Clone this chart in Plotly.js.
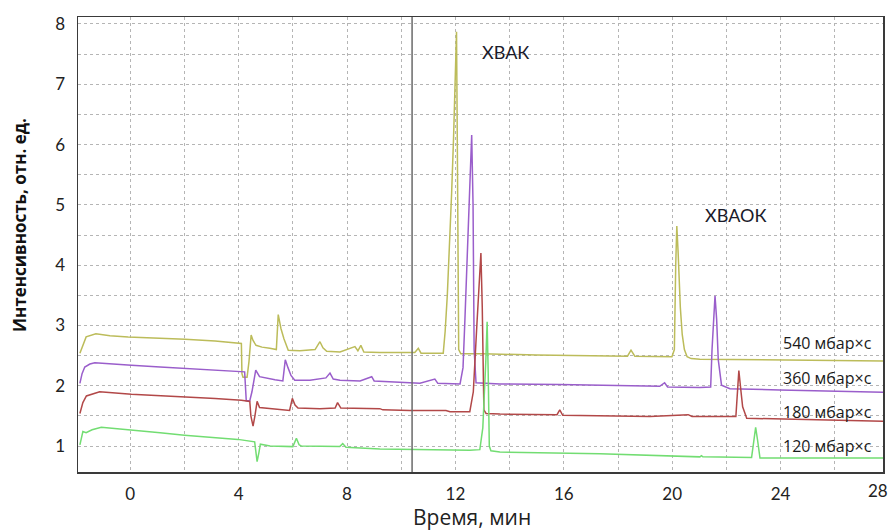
<!DOCTYPE html>
<html>
<head>
<meta charset="utf-8">
<script src="https://cdn.plot.ly/plotly-3.0.1.min.js"></script>
<style>html,body{margin:0;padding:0;background:#fff;}#chart{width:891px;height:531px;}</style>
</head>
<body>
<div id="chart"></div>
<script>
// Series names
const seriesNames = ["540 мбар×с", "360 мбар×с", "180 мбар×с", "120 мбар×с"];
const peakLabels = ["ХВАК", "ХВАОК"];
const cursorTime = 10.4;

// 540 mbar·s
const t540 = [-1.86,-1.63,-1.27,-0.75,-0.08,1.1,2.02,3.13,4.05,4.10,4.12,4.16,4.31,4.38,4.46,4.53,4.64,4.86,5.15,5.39,5.46,5.56,5.67,5.83,6.26,6.82,7.0,7.11,7.25,7.74,8.29,8.40,8.51,8.62,9.21,9.95,10.5,10.63,10.73,11.55,11.62,11.7,11.78,11.86,11.93,11.99,12.04,12.07,12.09,12.12,12.2,13.0,15.0,17.33,18.35,18.48,18.62,19.99,20.08,20.13,20.17,20.22,20.3,20.37,20.45,20.55,20.7,21.02,24.0,27.78];
const y540 = [2.54,2.81,2.86,2.83,2.81,2.79,2.77,2.74,2.71,2.70,2.20,2.14,2.14,2.40,2.84,2.75,2.67,2.64,2.62,2.60,3.18,2.95,2.78,2.59,2.58,2.60,2.73,2.63,2.57,2.56,2.65,2.58,2.67,2.56,2.55,2.55,2.55,2.62,2.54,2.54,2.90,3.50,4.30,5.20,6.10,7.00,7.87,6.00,4.00,2.60,2.53,2.53,2.51,2.49,2.49,2.59,2.49,2.48,2.60,4.00,4.65,4.20,3.30,2.85,2.60,2.48,2.45,2.44,2.43,2.41];

// 360 mbar·s
const t360 = [-1.86,-1.78,-1.68,-1.49,-1.31,-0.75,0.04,1.1,2.0,3.13,4.1,4.22,4.28,4.41,4.49,4.63,4.77,4.97,5.34,5.63,5.72,5.82,5.93,6.07,6.63,7.22,7.37,7.49,7.74,8.48,8.91,9.0,9.58,10.07,10.69,11.24,11.35,12.17,12.28,12.35,12.46,12.54,12.6,12.65,12.69,12.76,13.64,15.85,18.07,19.54,19.72,19.83,21.02,21.42,21.47,21.58,21.64,21.7,21.82,22.13,23.97,27.78];
const y360 = [2.04,2.20,2.31,2.36,2.38,2.36,2.34,2.31,2.29,2.26,2.24,2.23,1.75,1.75,1.90,2.26,2.15,2.13,2.10,2.08,2.43,2.30,2.17,2.09,2.09,2.13,2.21,2.11,2.09,2.08,2.15,2.08,2.07,2.05,2.04,2.11,2.04,2.03,2.30,3.10,4.60,5.50,6.16,5.00,2.60,2.05,2.03,2.02,2.00,1.99,2.05,1.98,1.97,1.98,2.60,3.49,3.10,2.43,2.01,1.95,1.93,1.89];

// 180 mbar·s
const t180 = [-1.86,-1.75,-1.62,-1.13,0.04,2.0,3.13,4.1,4.41,4.45,4.53,4.6,4.68,4.77,5.15,5.88,5.98,6.08,6.19,7.0,7.56,7.65,7.77,9.21,9.32,10.32,11.65,11.8,12.53,12.66,12.79,12.87,12.94,12.99,13.05,13.13,13.64,15.75,15.85,15.96,17.33,19.18,20.59,20.73,22.35,22.46,22.54,22.6,22.75,24.71,27.78];
const y180 = [1.54,1.72,1.83,1.90,1.86,1.82,1.79,1.76,1.74,1.50,1.33,1.50,1.74,1.64,1.62,1.59,1.79,1.68,1.63,1.62,1.63,1.72,1.63,1.62,1.60,1.59,1.59,1.57,1.57,1.90,3.00,3.60,4.20,3.30,1.60,1.54,1.53,1.52,1.60,1.51,1.50,1.49,1.52,1.49,1.49,2.25,1.90,1.65,1.46,1.44,1.41];

// 120 mbar·s
const t120 = [-1.86,-1.75,-1.63,-1.41,-1.07,0.04,1.1,2.0,3.13,3.97,4.59,4.65,4.68,4.75,4.8,5.16,6.0,6.13,6.23,6.31,7.73,7.84,7.96,9.21,10.69,12.53,12.9,13.01,13.12,13.17,13.21,13.25,13.31,13.64,17.33,21.02,21.08,21.13,22.93,22.98,23.08,23.15,23.24,24.71,27.78];
const y120 = [1.02,1.24,1.22,1.27,1.31,1.27,1.22,1.18,1.14,1.11,1.07,0.90,0.74,0.90,1.03,1.00,0.99,1.13,1.02,1.00,0.99,1.04,0.98,0.95,0.94,0.93,0.94,1.30,2.40,3.06,2.20,1.00,0.92,0.90,0.87,0.82,0.84,0.82,0.81,1.00,1.31,1.10,0.80,0.80,0.80];

const xTickVals = [-2,0,2,4,6,8,10,12,14,16,18,20,22,24,26,28];
const xTickText = ["","0","","4","","8","","12","","16","","20","","24","","28"];
const yTickVals = [1,1.5,2,2.5,3,3.5,4,4.5,5,5.5,6,6.5,7,7.5,8];
const yTickText = ["1","","2","","3","","4","","5","","6","","7","","8"];

const colors = ["#bcbc5a", "#9a5ecb", "#b24848", "#72dd72"];
const times = [t540, t360, t180, t120];
const vals = [y540, y360, y180, y120];

const FONT = "Lato, 'Open Sans', sans-serif";
const CYR = "'Open Sans', 'Noto Sans', sans-serif";
const traces = times.map((t, i) => ({
  x: t, y: vals[i], type: "scatter", mode: "lines",
  name: seriesNames[i], line: {color: colors[i], width: 1.5}, hoverinfo: "skip"
}));

const labelY = [2.708, 2.128, 1.564, 1.0];
const annotations = seriesNames.map((s, i) => ({
  text: s, xref: "x", yref: "y", x: 24.0, y: labelY[i], xanchor: "left", yanchor: "middle",
  showarrow: false, font: {family: CYR, size: 16, color: "#1a1a1a"}
}));
annotations.push(
  {text: peakLabels[0], xref: "x", yref: "y", x: 13.86, y: 7.535, showarrow: false, xanchor: "center", yanchor: "middle", font: {family: FONT, size: 18, color: "#1a1a2a"}},
  {text: peakLabels[1], xref: "x", yref: "y", x: 22.35, y: 4.83, showarrow: false, xanchor: "center", yanchor: "middle", font: {family: FONT, size: 18, color: "#1a1a2a"}},
  {text: "28", xref: "paper", yref: "paper", x: 0.9938, y: -0.0396, showarrow: false, xanchor: "center", yanchor: "middle", font: {family: FONT, size: 17, color: "#222"}},
  {text: "<b>Интенсивность, отн. ед.</b>", xref: "paper", yref: "paper", x: -0.072, y: 0.543, textangle: -90, showarrow: false, xanchor: "center", yanchor: "middle", font: {family: CYR, size: 17, color: "#111"}},
  {text: "Время, мин", xref: "paper", yref: "paper", x: 0.4894, y: -0.099, showarrow: false, xanchor: "center", yanchor: "middle", font: {family: CYR, size: 21, color: "#222"}}
);

const layout = {
  width: 891, height: 531,
  margin: {l: 78, r: 8, t: 17, b: 59},
  paper_bgcolor: "#fff", plot_bgcolor: "#fff",
  showlegend: false,
  xaxis: {
    range: [-1.93, 27.78], tickvals: xTickVals, ticktext: xTickText,
    showgrid: true, gridcolor: "#b5b5b5", griddash: "dot", gridwidth: 1,
    zeroline: false, showline: true, mirror: true, linecolor: "#3a3a3a", linewidth: 1.5,
    ticks: "outside", ticklen: 6, tickcolor: "rgba(0,0,0,0)",
    tickfont: {family: FONT, size: 17, color: "#222"}
  },
  yaxis: {
    range: [0.569, 8.116], tickvals: yTickVals, ticktext: yTickText,
    showgrid: true, gridcolor: "#b5b5b5", griddash: "dot", gridwidth: 1,
    zeroline: false, showline: true, mirror: true, linecolor: "#3a3a3a", linewidth: 1.5,
    ticks: "outside", ticklen: 8, tickcolor: "rgba(0,0,0,0)",
    tickfont: {family: FONT, size: 17, color: "#222"}
  },
  shapes: [{type: "line", xref: "x", yref: "paper", x0: cursorTime, x1: cursorTime, y0: 0, y1: 1, line: {color: "#6a6a6a", width: 1.5}}],
  annotations: annotations
};

Plotly.newPlot("chart", traces, layout, {displayModeBar: false, staticPlot: true});
</script>
</body>
</html>
